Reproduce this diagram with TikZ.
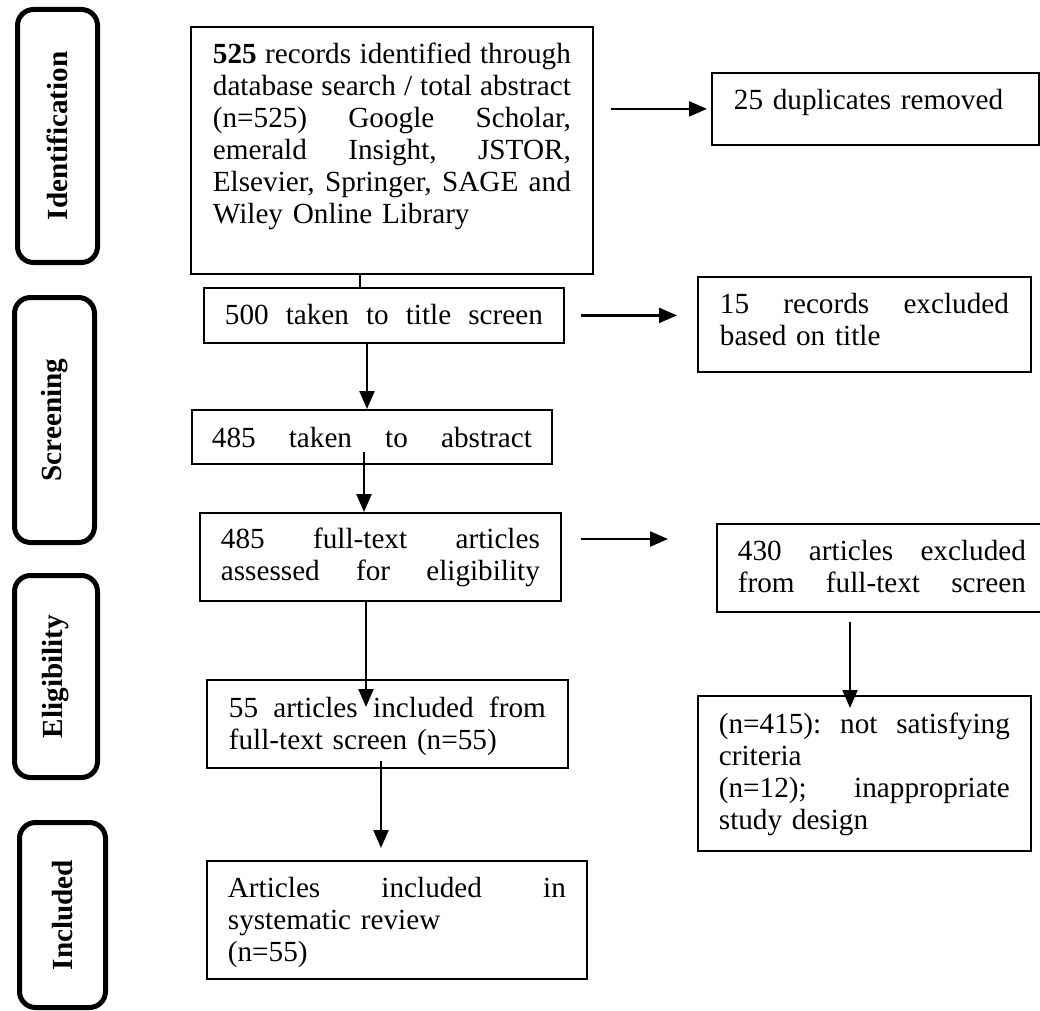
\documentclass[tikz,border=0pt]{standalone}
\usepackage{fontspec}
\setmainfont{Liberation Serif}
\usetikzlibrary{arrows.meta}

\tikzset{
  stage/.style={draw,line width=2.5pt,rounded corners=8pt,rotate=90,font=\fontsize{14.6}{16}\selectfont\bfseries,inner sep=0pt},
  box/.style={draw,line width=0.9pt,anchor=north west,inner ysep=0pt,align=left},
  arr/.style={-{Triangle[length=9pt,width=7.5pt]},line width=1.1pt},
  link/.style={line width=1.1pt}
}

\begin{document}
\begin{tikzpicture}[x=0.5pt,y=-0.5pt,font=\fontsize{14.6}{16}\selectfont]
\useasboundingbox (0,0) rectangle (1040,1011);
\clip (0,0) rectangle (1040,1011);
% Stage labels
\node[stage,minimum width=126.5pt,minimum height=40pt] (ident) at (57.5,136) {Identification};
\node[stage,minimum width=122.5pt,minimum height=40pt] (screen) at (54.5,420) {Screening};
\node[stage,minimum width=101pt,minimum height=41.5pt] (elig) at (56,676.5) {Eligibility};
\node[stage,minimum width=92.5pt,minimum height=43pt] (incd) at (62.5,915) {Included};
% Main column
\node[box,inner xsep=11pt,text width=179pt,text height=18.5pt,text depth=105pt] (rec) at (190,26)
  {\textbf{525}\hfill records\hfill identified\hfill through\\
   database\hfill search\hfill /\hfill total\hfill abstract\\
   (n=525)\hfill Google\hfill Scholar,\\
   emerald\hfill Insight,\hfill JSTOR,\\
   Elsevier,\hfill Springer,\hfill SAGE\hfill and\\
   Wiley Online Library};
\node[box,inner xsep=10.5pt,text width=159pt,text height=18.5pt,text depth=9pt] (title) at (203,287)
  {500\hfill taken\hfill to\hfill title\hfill screen};
\node[box,inner xsep=10pt,text width=160pt,text height=19pt,text depth=8pt] (abst) at (191,409)
  {485\hfill taken\hfill to\hfill abstract};
\node[box,inner xsep=10.5pt,text width=159.5pt,text height=18pt,text depth=26pt] (full) at (199,512)
  {485\hfill full-text\hfill articles\\
   assessed\hfill for\hfill eligibility};
\node[box,inner xsep=11pt,text width=158.5pt,text height=19pt,text depth=25pt] (incl) at (206,679)
  {55\hfill articles\hfill included\hfill from\\
   full-text screen (n=55)};
\node[box,inner xsep=10.5pt,text width=169pt,text height=18.5pt,text depth=40.5pt] (sys) at (206,860)
  {Articles\hfill included\hfill in\\
   systematic review\\
   (n=55)};
% Right column
\node[box,inner xsep=11pt,text width=141.5pt,text height=18.5pt,text depth=17.5pt] (dup) at (711,72)
  {25 duplicates removed};
\node[box,inner xsep=11pt,text width=144.5pt,text height=18.5pt,text depth=29pt] (ex15) at (697,276)
  {15\hfill records\hfill excluded\\
   based on title};
\node[box,inner xsep=10.5pt,text width=144pt,text height=18.5pt,text depth=25.5pt] (ex430) at (716,523)
  {430\hfill articles\hfill excluded\\
   from\hfill full-text\hfill screen};
\node[box,inner xsep=10.5pt,text width=145.5pt,text height=19pt,text depth=58.5pt] (crit) at (697,695)
  {(n=415):\hfill not\hfill satisfying\\
   criteria\\
   (n=12);\hfill inappropriate\\
   study design};
% Connector columns
\coordinate (k1) at (360,0);
\coordinate (k2) at (367,0);
\coordinate (k3) at (364,0);
\coordinate (k4) at (366,0);
\coordinate (k5) at (381,0);
\coordinate (k6) at (850,0);
\coordinate (r3) at (0,539);
% Downward flow
\draw[link] (rec.south -| k1) -- (title.north -| k1);
\draw[arr] (title.south -| k2) -- (abst.north -| k2);
\draw[arr,shorten <=-6.5pt] (abst.south -| k3) -- (full.north -| k3);
\draw[arr,shorten >=-14pt] (full.south -| k4) -- (incl.north -| k4);
\draw[arr,shorten <=-4pt,shorten >=6pt] (incl.south -| k5) -- (sys.north -| k5);
% Exclusions
\draw[arr,shorten <=8.5pt,shorten >=2pt] (rec.east |- dup.west) -- (dup.west);
\draw[arr,shorten <=8pt,shorten >=10pt] (title.east) -- (title.east -| ex15.west);
\draw[arr,shorten <=9.5pt,shorten >=24pt] (full.east |- r3) -- (ex430.west |- r3);
\draw[arr,shorten <=4.5pt,shorten >=-6.5pt] (ex430.south -| k6) -- (crit.north -| k6);
\end{tikzpicture}
\end{document}
